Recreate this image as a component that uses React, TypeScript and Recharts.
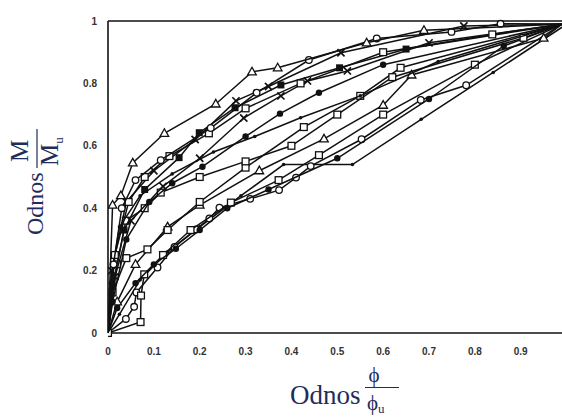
import { ScatterChart, Scatter, XAxis, YAxis, ReferenceLine, Label } from "recharts";

const xTicks = [0, 0.1, 0.2, 0.3, 0.4, 0.5, 0.6, 0.7, 0.8, 0.9];
const yTicks = [0, 0.2, 0.4, 0.6, 0.8, 1];

// M/Mu against phi/phi_u, one array per specimen: [phi ratio, moment ratio]
const triangleUpper = [[0, 0], [0.01, 0.41], [0.028, 0.44], [0.054, 0.545], [0.123, 0.64], [0.235, 0.734], [0.314, 0.837], [0.37, 0.85], [0.564, 0.93], [0.689, 0.97], [0.99, 0.99]];
const circleUpper = [[0, 0], [0.012, 0.22], [0.03, 0.4], [0.06, 0.49], [0.115, 0.554], [0.224, 0.657], [0.324, 0.77], [0.438, 0.875], [0.586, 0.944], [0.749, 0.965], [0.856, 0.991], [0.99, 0.99]];
const squareUpper = [[0, 0], [0.015, 0.25], [0.045, 0.42], [0.08, 0.5], [0.134, 0.567], [0.22, 0.64], [0.3, 0.72], [0.42, 0.8], [0.6, 0.9], [0.838, 0.957], [0.99, 0.99]];
const squareSolid = [[0, 0], [0.01, 0.15], [0.035, 0.33], [0.08, 0.46], [0.155, 0.562], [0.199, 0.642], [0.277, 0.722], [0.377, 0.795], [0.505, 0.85], [0.65, 0.91], [0.99, 0.99]];
const crossA = [[0, 0], [0.008, 0.2], [0.04, 0.42], [0.1, 0.52], [0.19, 0.62], [0.279, 0.744], [0.35, 0.79], [0.508, 0.898], [0.776, 0.984], [0.99, 0.99]];
const crossB = [[0, 0], [0.015, 0.18], [0.05, 0.36], [0.12, 0.47], [0.2, 0.56], [0.296, 0.689], [0.377, 0.76], [0.435, 0.808], [0.522, 0.84], [0.7, 0.93], [0.99, 0.99]];
const dotsUpper = [[0, 0], [0.005, 0.16], [0.025, 0.34], [0.07, 0.44], [0.14, 0.51], [0.23, 0.58], [0.32, 0.63], [0.42, 0.69], [0.55, 0.76], [0.72, 0.87], [0.99, 0.99]];
const circleSolid = [[0, 0], [0.01, 0.1], [0.04, 0.3], [0.09, 0.42], [0.14, 0.48], [0.206, 0.533], [0.3, 0.63], [0.375, 0.703], [0.46, 0.77], [0.6, 0.86], [0.99, 0.99]];
const squareMiddle = [[0, 0], [0.01, 0.13], [0.04, 0.24], [0.086, 0.268], [0.13, 0.33], [0.2, 0.42], [0.3, 0.53], [0.427, 0.66], [0.55, 0.76], [0.638, 0.85], [0.99, 0.99]];
const squareMiddleB = [[0, 0], [0.02, 0.22], [0.039, 0.36], [0.08, 0.4], [0.115, 0.45], [0.2, 0.5], [0.3, 0.55], [0.4, 0.6], [0.5, 0.7], [0.62, 0.82], [0.906, 0.946], [0.99, 0.99]];
const triangleLower = [[0, 0], [0.02, 0.1], [0.06, 0.22], [0.13, 0.34], [0.2, 0.41], [0.33, 0.52], [0.471, 0.622], [0.6, 0.73], [0.662, 0.827], [0.95, 0.945], [0.99, 0.99]];
const circleLower = [[0, 0], [0.039, 0.045], [0.057, 0.084], [0.062, 0.13], [0.108, 0.21], [0.145, 0.276], [0.192, 0.332], [0.221, 0.367], [0.243, 0.402], [0.31, 0.43], [0.373, 0.458], [0.41, 0.498], [0.442, 0.535], [0.553, 0.621], [0.682, 0.747], [0.781, 0.794], [0.99, 0.99]];
const squareLower = [[0, 0], [0.071, 0.035], [0.072, 0.12], [0.079, 0.188], [0.12, 0.25], [0.18, 0.33], [0.268, 0.418], [0.372, 0.49], [0.46, 0.57], [0.6, 0.7], [0.8, 0.86], [0.99, 0.99]];
const dotsLowest = [[0, 0], [0.025, 0.06], [0.07, 0.17], [0.13, 0.26], [0.2, 0.34], [0.29, 0.44], [0.383, 0.54], [0.533, 0.54], [0.683, 0.685], [0.84, 0.835], [0.99, 0.98]];
const circleSolidLower = [[0, 0], [0.02, 0.08], [0.06, 0.16], [0.1, 0.22], [0.148, 0.27], [0.2, 0.33], [0.26, 0.4], [0.35, 0.46], [0.5, 0.56], [0.7, 0.75], [0.863, 0.92], [0.99, 0.99]];

type Marker = "triangle" | "circle" | "square" | "squareFilled" | "circleFilled" | "cross" | "dot";

const specimens: { name: string; points: number[][]; marker: Marker }[] = [
  { name: "dotsLowest", points: dotsLowest, marker: "dot" },
  { name: "circleLower", points: circleLower, marker: "circle" },
  { name: "squareLower", points: squareLower, marker: "square" },
  { name: "circleSolidLower", points: circleSolidLower, marker: "circleFilled" },
  { name: "triangleLower", points: triangleLower, marker: "triangle" },
  { name: "squareMiddle", points: squareMiddle, marker: "square" },
  { name: "squareMiddleB", points: squareMiddleB, marker: "square" },
  { name: "circleSolid", points: circleSolid, marker: "circleFilled" },
  { name: "dotsUpper", points: dotsUpper, marker: "dot" },
  { name: "crossB", points: crossB, marker: "cross" },
  { name: "crossA", points: crossA, marker: "cross" },
  { name: "squareSolid", points: squareSolid, marker: "squareFilled" },
  { name: "squareUpper", points: squareUpper, marker: "square" },
  { name: "circleUpper", points: circleUpper, marker: "circle" },
  { name: "triangleUpper", points: triangleUpper, marker: "triangle" },
];

const INK = "#111";
const TITLE = "#1f2d5c";
const SERIF = "'Liberation Serif', 'DejaVu Serif', serif";

function makeShape(marker: Marker, markOrigin: boolean) {
  return (props: any) => {
    const { cx, cy, payload } = props;
    if (cx == null || cy == null) return <g />;
    // no symbol at the common end point, nor at the origin unless asked
    if (payload.x >= 0.985) return <g />;
    if (payload.x === 0 && payload.y === 0 && !markOrigin) return <g />;
    switch (marker) {
      case "triangle":
        return (
          <polygon
            points={`${cx},${cy - 4.6} ${cx - 4.3},${cy + 3} ${cx + 4.3},${cy + 3}`}
            fill="#fff"
            stroke={INK}
            strokeWidth={1.3}
          />
        );
      case "circle":
        return <circle cx={cx} cy={cy} r={3.3} fill="#fff" stroke={INK} strokeWidth={1.3} />;
      case "square":
        return <rect x={cx - 3.4} y={cy - 3.4} width={6.8} height={6.8} fill="#fff" stroke={INK} strokeWidth={1.3} />;
      case "squareFilled":
        return <rect x={cx - 3.5} y={cy - 3.5} width={7} height={7} fill={INK} />;
      case "circleFilled":
        return <circle cx={cx} cy={cy} r={3.2} fill={INK} />;
      case "cross":
        return (
          <g stroke={INK} strokeWidth={1.7}>
            <line x1={cx - 3.6} y1={cy - 3.6} x2={cx + 3.6} y2={cy + 3.6} />
            <line x1={cx - 3.6} y1={cy + 3.6} x2={cx + 3.6} y2={cy - 3.6} />
          </g>
        );
      default:
        return <circle cx={cx} cy={cy} r={1.8} fill={INK} />;
    }
  };
}

function XTitle() {
  return (
    <g fill={TITLE} fontFamily={SERIF}>
      <text x={290} y={404} fontSize={27}>Odnos</text>
      <text x={374} y={382} fontSize={21} textAnchor="middle">ϕ</text>
      <line x1={365} x2={399} y1={387.5} y2={387.5} stroke={TITLE} strokeWidth={1.2} />
      <text x={367} y={410} fontSize={21}>
        ϕ<tspan fontSize={13} dy={3}>u</tspan>
      </text>
    </g>
  );
}

function YTitle() {
  return (
    <g fill={TITLE} fontFamily={SERIF}>
      <text transform="translate(43,235) rotate(-90)" fontSize={24}>Odnos</text>
      <text transform="translate(28,151) rotate(-90)" fontSize={25} textAnchor="middle">M</text>
      <line x1={37} x2={37} y1={129} y2={168} stroke={TITLE} strokeWidth={1.2} />
      <text transform="translate(58,166) rotate(-90)" fontSize={25}>
        M<tspan fontSize={13} dy={5}>u</tspan>
      </text>
    </g>
  );
}

const tickStyle = { fontFamily: "'Liberation Sans', Arial, sans-serif", fontSize: 10, fontWeight: 700, fill: "#333" };

export default function App() {
  return (
    <div style={{ position: "absolute", left: 0, top: 0, background: "#fff" }}>
      <ScatterChart width={562} height={419} margin={{ top: 21, right: 0, bottom: 0, left: 0 }}>
        <XAxis
          type="number"
          dataKey="x"
          domain={[0, 0.99]}
          ticks={xTicks}
          tickFormatter={(v: number) => (v === 0 ? "0" : String(v))}
          height={86}
          tickLine={false}
          tickSize={0}
          tickMargin={15}
          tick={tickStyle}
          axisLine={{ stroke: INK, strokeWidth: 1.6 }}
          allowDataOverflow
        >
          <Label content={XTitle} />
        </XAxis>
        <YAxis
          type="number"
          dataKey="y"
          domain={[0, 1]}
          ticks={yTicks}
          tickFormatter={(v: number) => String(v)}
          width={108}
          tickLine={false}
          tickSize={0}
          tickMargin={11}
          tick={tickStyle}
          axisLine={{ stroke: INK, strokeWidth: 1.6 }}
        >
          <Label content={YTitle} />
        </YAxis>
        <ReferenceLine y={1} stroke={INK} strokeWidth={1.6} />
        {specimens.map((s) => (
          <Scatter
            key={s.name}
            name={s.name}
            data={s.points.map(([x, y]) => ({ x, y }))}
            line={{ stroke: INK, strokeWidth: 1.5 }}
            lineJointType="linear"
            shape={makeShape(s.marker, s.name === "squareLower")}
            isAnimationActive={false}
          />
        ))}
      </ScatterChart>
    </div>
  );
}
